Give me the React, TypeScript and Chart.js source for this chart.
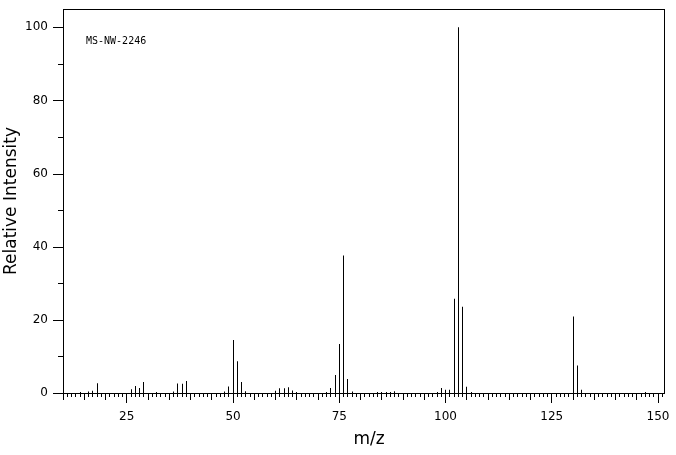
import React, { useEffect, useRef } from "react";
import { Chart, registerables } from "chart.js";

Chart.register(...registerables);

// m/z values and relative intensities
const mzValues = [
  14, 16, 17, 18, 26, 27, 28, 29, 32, 36, 37, 38, 39, 48, 49, 50, 51, 52, 53,
  60, 61, 62, 63, 64, 65, 72, 73, 74, 75, 76, 77, 78, 84, 85, 86, 87, 88, 98,
  99, 100, 101, 102, 103, 104, 105, 106, 130, 131, 132, 147,
];
const intensities = [
  0.3, 0.4, 0.6, 2.7, 1.0, 1.9, 1.4, 3.0, 0.3, 0.4, 2.6, 2.5, 3.3, 0.4, 1.8, 14.5, 8.7, 3.0, 0.5,
  0.6, 1.3, 1.3, 1.6, 0.7, 0.3, 0.3, 1.4, 4.9, 13.4, 37.6, 3.8, 0.4, 0.3, 0.3, 0.3, 0.3, 0.5, 0.3,
  1.4, 0.9, 0.9, 25.8, 100, 23.6, 1.7, 0.3, 20.9, 7.5, 0.9, 0.3,
];
const xMin = 10;
const xMax = 151.4;
const yMin = 0;
const yMax = 105;
const xLabelTicks = [25, 50, 75, 100, 125, 150];
const yLabelTicks = [0, 20, 40, 60, 80, 100];
const sampleLabel = "MS-NW-2246";
const xTitle = "m/z";
const yTitle = "Relative Intensity";

const tickFont = "DejaVu Sans";

const framePlugin = {
  id: "frameAndTicks",
  beforeDraw(chart: any) {
    const ctx = chart.ctx;
    ctx.save();
    ctx.fillStyle = "#ffffff";
    ctx.fillRect(0, 0, chart.width, chart.height);
    ctx.restore();
  },
  afterDatasetsUpdate(chart: any) {
    // snap bar centres to pixel centres so the 1px stems stay crisp
    chart.getSortedVisibleDatasetMetas().forEach((meta: any) => {
      meta.data.forEach((el: any) => {
        el.x = Math.round(el.x - 0.5) + 0.5;
      });
    });
  },
  afterDraw(chart: any) {
    const ctx = chart.ctx;
    const { left, right, top, bottom } = chart.chartArea;
    const xs = chart.scales.x;
    const ys = chart.scales.y;
    ctx.save();
    ctx.strokeStyle = "#000";
    ctx.lineWidth = 1;
    // frame
    ctx.strokeRect(left + 0.5, top + 0.5, right - left, bottom - top);
    // x ticks
    ctx.beginPath();
    for (let m = Math.ceil(xMin); m <= Math.floor(xMax); m++) {
      const px = Math.round(xs.getPixelForValue(m) - 0.5) + 0.5;
      const len = m % 25 === 0 ? 10 : m % 5 === 0 ? 7 : 4;
      ctx.moveTo(px, bottom);
      ctx.lineTo(px, bottom + len);
    }
    // y ticks
    for (let v = 0; v <= 100; v += 10) {
      const py = Math.round(ys.getPixelForValue(v)) + 0.5;
      const len = v % 20 === 0 ? 10 : 5;
      ctx.moveTo(left, py);
      ctx.lineTo(left - len, py);
    }
    ctx.stroke();

    // titles
    ctx.fillStyle = "#000";
    ctx.font = "17px 'DejaVu Sans'";
    ctx.textAlign = "center";
    ctx.textBaseline = "middle";
    ctx.fillText(xTitle, 369, 440);
    ctx.save();
    ctx.translate(12, (top + bottom) / 2);
    ctx.rotate(-Math.PI / 2);
    ctx.fillText(yTitle, 0, 0);
    ctx.restore();

    // sample label
    ctx.font = "10px 'DejaVu Sans Mono'";
    ctx.textAlign = "left";
    ctx.textBaseline = "alphabetic";
    ctx.fillText(sampleLabel, 86, 44);
    ctx.restore();
  },
};

export default function App() {
  const canvasRef = useRef<HTMLCanvasElement | null>(null);

  useEffect(() => {
    document.body.style.margin = "0";
    const canvas = canvasRef.current;
    if (!canvas) return;
    const data = mzValues.map((m, i) => ({ x: m, y: intensities[i] }));
    const chart = new Chart(canvas, {
      type: "bar",
      data: {
        datasets: [
          {
            data: data as any,
            backgroundColor: "#000",
            borderWidth: 0,
            barThickness: 1,
            inflateAmount: 0,
            grouped: false,
          } as any,
        ],
      },
      options: {
        animation: false,
        responsive: true,
        maintainAspectRatio: false,
        devicePixelRatio: 1,
        layout: { padding: { top: 9, right: 12, left: 0, bottom: 0 } },
        plugins: {
          legend: { display: false },
          tooltip: { enabled: false },
          title: { display: false },
        },
        scales: {
          x: {
            type: "linear",
            min: xMin,
            max: xMax,
            offset: false,
            grid: { display: false, drawTicks: false },
            border: { display: false },
            ticks: {
              autoSkip: false,
              maxRotation: 0,
              padding: 17,
              color: "#000",
              font: { family: tickFont, size: 12 },
            },
            afterBuildTicks: (scale: any) => {
              scale.ticks = xLabelTicks.map((v) => ({ value: v }));
            },
            afterFit: (scale: any) => {
              scale.height = 62;
              scale.paddingLeft = 0;
              scale.paddingRight = 0;
            },
          },
          y: {
            min: yMin,
            max: yMax,
            grid: { display: false, drawTicks: false },
            border: { display: false },
            ticks: {
              autoSkip: false,
              padding: 15,
              color: "#000",
              font: { family: tickFont, size: 12 },
            },
            afterBuildTicks: (scale: any) => {
              scale.ticks = yLabelTicks.map((v) => ({ value: v }));
            },
            afterFit: (scale: any) => {
              scale.width = 63;
              scale.paddingTop = 0;
              scale.paddingBottom = 0;
            },
          },
        },
      },
      plugins: [framePlugin],
    });
    return () => chart.destroy();
  }, []);

  return (
    <div style={{ position: "fixed", left: 0, top: 0, width: 676, height: 455, background: "#fff" }}>
      <canvas ref={canvasRef} />
    </div>
  );
}
